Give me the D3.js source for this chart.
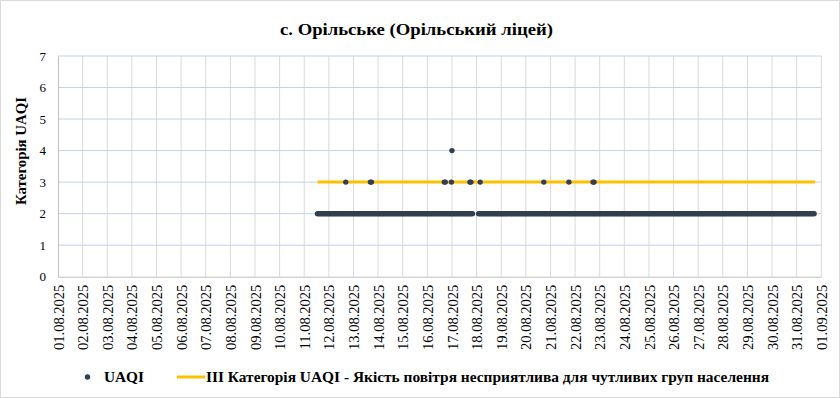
<!DOCTYPE html>
<html lang="uk">
<head>
<meta charset="UTF-8">
<title>с. Орільське (Орільський ліцей)</title>
<script src="https://cdn.jsdelivr.net/npm/d3@7/dist/d3.min.js"></script>
<style>
  html, body { margin: 0; padding: 0; background: #fff; }
  svg { display: block; }
  svg text { font-family: 'Liberation Serif', 'Times New Roman', serif; }
</style>
</head>
<body>
<div class="d3"></div>
<script>
// data
const dayLabels = [
  '01.08.2025', '02.08.2025', '03.08.2025', '04.08.2025', '05.08.2025', '06.08.2025',
  '07.08.2025', '08.08.2025', '09.08.2025', '10.08.2025', '11.08.2025', '12.08.2025',
  '13.08.2025', '14.08.2025', '15.08.2025', '16.08.2025', '17.08.2025', '18.08.2025',
  '19.08.2025', '20.08.2025', '21.08.2025', '22.08.2025', '23.08.2025', '24.08.2025',
  '25.08.2025', '26.08.2025', '27.08.2025', '28.08.2025', '29.08.2025', '30.08.2025',
  '31.08.2025', '01.09.2025'
]
const yTicks = [0, 1, 2, 3, 4, 5, 6, 7]

// hourly UAQI category, one string per day (hours 00..23), '-' = no data
const hourlyFirstDay = '11.08.2025'
const hourlyUAQI = [
  '-------------22222222222', // 11.08
  '222222222222222222222222', // 12.08
  '222222222222222222222222', // 13.08
  '222222222222222222222222', // 14.08
  '222222222222222222222222', // 15.08
  '222222222222222222222222', // 16.08
  '222222222222222222222---', // 17.08
  '--2222222222222222222222', // 18.08
  '222222222222222222222222', // 19.08
  '222222222222222222222222', // 20.08
  '222222222222222222222222', // 21.08
  '222222222222222222222222', // 22.08
  '222222222222222222222222', // 23.08
  '222222222222222222222222', // 24.08
  '222222222222222222222222', // 25.08
  '222222222222222222222222', // 26.08
  '222222222222222222222222', // 27.08
  '222222222222222222222222', // 28.08
  '222222222222222222222222', // 29.08
  '222222222222222222222222', // 30.08
  '222222222222222222------'  // 31.08
]

// readings above category 2
const elevatedTimes = [
  '12.08.2025 16:30', '13.08.2025 16:30', '13.08.2025 17:30', '16.08.2025 16:30',
  '16.08.2025 17:30', '16.08.2025 23:30', '17.08.2025 00:00', '17.08.2025 17:30',
  '17.08.2025 18:30', '18.08.2025 03:30', '20.08.2025 17:30', '21.08.2025 18:00',
  '22.08.2025 17:30', '22.08.2025 18:30'
]
const elevatedValues = [3, 3, 3, 3, 3, 3, 4, 3, 3, 3, 3, 3, 3, 3]

const thresholdValue = 3
const thresholdFrom = '11.08.2025 13:00'
const thresholdTo = '31.08.2025 18:00'

const TITLE = 'с. Орільське (Орільський ліцей)'
const Y_TITLE = 'Категорія UAQI'
const LEGEND_POINTS = 'UAQI'
const LEGEND_LINE = 'III Категорія UAQI - Якість повітря несприятлива для чутливих груп населення'

// setup
const WIDTH = 840
const HEIGHT = 398
const LEFT = 58
const RIGHT = 821.3
const TOP = 56
const BOTTOM = 276.7

const DOT_COLOR = '#333f50'
const LINE_COLOR = '#ffc000'

const parseDay = d3.timeParse('%d.%m.%Y')
const parseTime = d3.timeParse('%d.%m.%Y %H:%M')

const points = []
const firstDay = parseDay(hourlyFirstDay)
hourlyUAQI.forEach((hours, i) => {
  const day = d3.timeDay.offset(firstDay, i)
  hours.split('').forEach((c, h) => {
    if (c !== '-') points.push({ t: d3.timeHour.offset(day, h), v: +c })
  })
})
elevatedTimes.forEach((s, i) => points.push({ t: parseTime(s), v: elevatedValues[i] }))

const threshold = [
  { t: parseTime(thresholdFrom), v: thresholdValue },
  { t: parseTime(thresholdTo), v: thresholdValue }
]

const svg = d3.select('.d3').append('svg')
  .attr('width', WIDTH)
  .attr('height', HEIGHT)

svg.append('rect')
  .attr('x', 0.5).attr('y', 0.5)
  .attr('width', WIDTH - 1).attr('height', HEIGHT - 1)
  .attr('fill', '#fff')
  .attr('stroke', '#d9d9d9')

const days = dayLabels.map(parseDay)
const x = d3.scaleTime()
  .domain([days[0], days[days.length - 1]])
  .range([LEFT, RIGHT])
const y = d3.scaleLinear()
  .domain([0, 7])
  .range([BOTTOM, TOP])

// vertical grid
svg.append('g')
  .selectAll('line')
  .data(days.slice(1))
  .join('line')
  .attr('x1', d => x(d)).attr('x2', d => x(d))
  .attr('y1', TOP).attr('y2', BOTTOM)
  .attr('stroke', '#d9d9d9')
  .attr('stroke-width', 1)

// horizontal grid
svg.append('g')
  .selectAll('line')
  .data(yTicks.slice(1))
  .join('line')
  .attr('x1', LEFT).attr('x2', RIGHT)
  .attr('y1', d => y(d)).attr('y2', d => y(d))
  .attr('stroke', '#c3d1ea')
  .attr('stroke-width', 1)

// axes
const xAxis = svg.append('g')
  .attr('transform', `translate(0, ${BOTTOM})`)
  .call(d3.axisBottom(x).tickValues(days).tickSize(0).tickFormat(d3.timeFormat('%d.%m.%Y')))
xAxis.select('.domain').attr('stroke', '#bfbfbf')
xAxis.selectAll('text')
  .attr('font-size', 14.5)
  .attr('fill', '#000')
  .attr('text-anchor', 'end')
  .attr('transform', 'rotate(-90)')
  .attr('x', -8)
  .attr('y', 0)
  .attr('dy', '0.35em')

const yAxis = svg.append('g')
  .attr('transform', `translate(${LEFT}, 0)`)
  .call(d3.axisLeft(y).tickValues(yTicks).tickSize(0).tickPadding(12).tickFormat(d3.format('d')))
yAxis.select('.domain').attr('stroke', '#bfbfbf')
yAxis.selectAll('text')
  .attr('font-size', 13)
  .attr('fill', '#000')

// threshold line
const line = d3.line().x(d => x(d.t)).y(d => y(d.v))
svg.append('path')
  .datum(threshold)
  .attr('d', line)
  .attr('fill', 'none')
  .attr('stroke', LINE_COLOR)
  .attr('stroke-width', 3)

// points
svg.append('g')
  .selectAll('circle')
  .data(points)
  .join('circle')
  .attr('cx', d => x(d.t))
  .attr('cy', d => y(d.v))
  .attr('r', 2.7)
  .attr('fill', DOT_COLOR)

// titles
svg.append('text')
  .attr('x', 416.5).attr('y', 35)
  .attr('text-anchor', 'middle')
  .attr('font-size', 17)
  .attr('font-weight', 'bold')
  .attr('textLength', 273)
  .attr('lengthAdjust', 'spacingAndGlyphs')
  .text(TITLE)

svg.append('text')
  .attr('transform', 'translate(26, 151) rotate(-90)')
  .attr('text-anchor', 'middle')
  .attr('font-size', 14)
  .attr('font-weight', 'bold')
  .attr('textLength', 108)
  .attr('lengthAdjust', 'spacingAndGlyphs')
  .text(Y_TITLE)

// legend
const legend = svg.append('g').attr('transform', 'translate(0, 377)')
legend.append('circle')
  .attr('cx', 87.5).attr('cy', 0).attr('r', 2.7)
  .attr('fill', DOT_COLOR)
legend.append('text')
  .attr('x', 104).attr('y', 5)
  .attr('font-size', 14)
  .attr('font-weight', 'bold')
  .attr('textLength', 40)
  .attr('lengthAdjust', 'spacingAndGlyphs')
  .text(LEGEND_POINTS)
legend.append('line')
  .attr('x1', 177).attr('x2', 205)
  .attr('y1', 0).attr('y2', 0)
  .attr('stroke', LINE_COLOR)
  .attr('stroke-width', 3)
legend.append('text')
  .attr('x', 206).attr('y', 5)
  .attr('font-size', 14)
  .attr('font-weight', 'bold')
  .attr('textLength', 563)
  .attr('lengthAdjust', 'spacingAndGlyphs')
  .text(LEGEND_LINE)
</script>
</body>
</html>
